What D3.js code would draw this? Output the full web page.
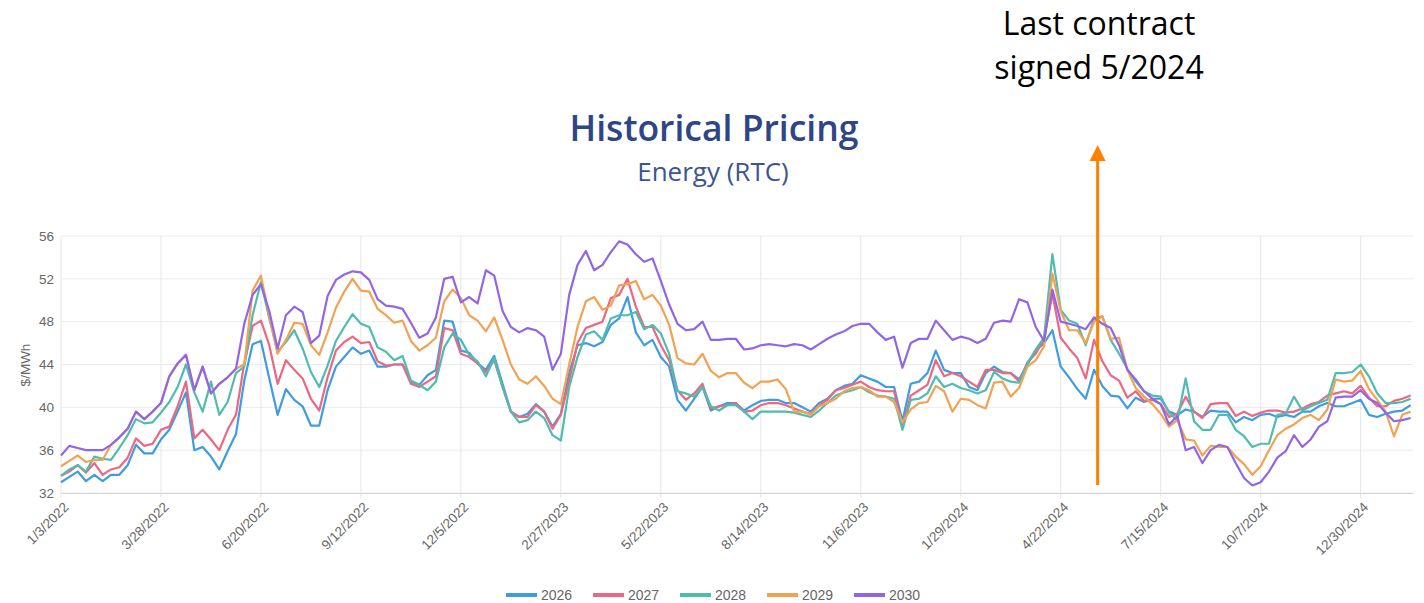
<!DOCTYPE html>
<html>
<head>
<meta charset="utf-8">
<script src="https://cdn.jsdelivr.net/npm/d3@7"></script>
<style>
  html, body { margin: 0; padding: 0; background: #fff; }
  svg { display: block; }
</style>
</head>
<body>
<div id="chart"></div>
<script>
// weekly settlements, first week 1/3/2022
var startDate = '1/3/2022',
	weekCount = 163;

var seriesNames = ['2026', '2027', '2028', '2029', '2030'];
var seriesColors = ['#3f9ce0', '#ec6781', '#4fbcaf', '#f2a253', '#9166e6'];

var tickLabels = ['1/3/2022', '3/28/2022', '6/20/2022', '9/12/2022', '12/5/2022', '2/27/2023',
	'5/22/2023', '8/14/2023', '11/6/2023', '1/29/2024', '4/22/2024', '7/15/2024', '10/7/2024', '12/30/2024'];
var yTicks = [32, 36, 40, 44, 48, 52, 56];

var contractDate = '5/23/2024';

var v2026 = [
	33.0, 33.5, 34.0, 33.1, 33.7, 33.1, 33.7, 33.7, 34.6, 36.5, 35.7, 35.7, 37.0, 37.9, 39.6, 41.4, 36.0, 36.3, 35.4, 34.2,
	35.9, 37.5, 42.5, 45.9, 46.2, 42.7, 39.3, 41.7, 40.7, 40.1, 38.3, 38.3, 41.6, 43.8, 44.7, 45.6, 45.0, 45.3,
	43.8, 43.8, 44.0, 44.0, 42.4, 42.1, 43.0, 43.5, 48.1, 48.0, 45.3, 45.1, 44.1, 43.5, 44.8, 42.2, 39.6, 39.1, 39.4, 40.3,
	39.6, 38.2, 39.4, 43.2, 45.8, 46.0, 45.7, 46.1, 47.7, 48.3, 50.3, 47.0, 45.8, 46.3, 44.7, 43.8, 40.7, 39.7,
	40.8, 41.9, 39.7, 40.1, 40.4, 40.4, 39.7, 40.2, 40.6, 40.7, 40.7, 40.4, 40.4, 40.0, 39.6, 40.4, 40.8, 41.6, 42.0, 42.2,
	43.0, 42.7, 42.4, 41.9, 41.9, 38.7, 42.2, 42.4, 43.2, 45.3, 43.5, 43.2, 43.2, 41.9, 41.6, 43.2, 43.8, 43.3, 43.2,
	42.6, 44.0, 45.3, 46.0, 47.2, 43.8, 42.8, 41.7, 40.8, 43.5, 42.0, 41.1, 41.0, 39.9, 40.9, 40.5, 40.8, 40.8, 39.6, 39.3,
	39.8, 39.6, 39.1, 39.7, 39.6, 39.6, 38.6, 39.1, 38.8, 39.3, 39.4, 39.1, 39.3, 39.1, 39.6, 39.6, 40.1, 40.4, 40.1, 40.1,
	40.4, 40.7, 39.3, 39.1, 39.4, 39.6, 39.7, 40.2
];

var v2027 = [
	33.6, 34.0, 34.6, 33.9, 34.8, 33.7, 34.2, 34.4, 35.3, 37.1, 36.4, 36.6, 37.9, 38.2, 40.1, 42.4, 37.1, 37.9, 37.0, 36.0,
	37.9, 39.3, 44.1, 47.6, 48.1, 45.8, 42.2, 44.4, 43.5, 42.7, 40.8, 39.7, 42.8, 45.3, 46.1, 46.6, 46.0, 46.1,
	44.3, 43.9, 44.0, 44.0, 42.2, 41.9, 42.4, 42.9, 47.4, 47.2, 45.0, 44.7, 44.1, 43.3, 44.4, 41.9, 39.6, 39.1, 39.1, 40.2,
	39.6, 38.0, 39.3, 42.5, 46.0, 47.4, 47.7, 48.0, 50.2, 50.5, 52.0, 49.4, 47.5, 47.5, 45.8, 44.4, 41.6, 40.7,
	41.3, 42.2, 39.9, 40.1, 40.2, 40.4, 39.6, 39.7, 40.2, 40.4, 40.4, 40.2, 39.9, 39.6, 39.4, 40.2, 40.7, 41.6, 41.8, 42.1,
	42.4, 41.9, 41.6, 41.5, 41.5, 38.2, 41.1, 41.6, 42.1, 44.4, 42.9, 43.2, 42.9, 42.4, 41.9, 43.5, 43.5, 43.2, 43.2,
	42.4, 44.2, 45.0, 46.4, 50.6, 46.5, 45.5, 44.6, 42.7, 46.3, 44.3, 43.0, 42.5, 40.9, 41.5, 40.6, 40.7, 40.3, 39.1, 39.4,
	41.0, 39.6, 39.0, 40.3, 40.4, 40.4, 39.2, 39.6, 39.2, 39.5, 39.7, 39.7, 39.5, 39.6, 39.9, 40.3, 40.5, 41.1, 41.3, 41.5,
	41.3, 42.0, 40.9, 40.1, 40.1, 40.6, 40.8, 41.1
];

var v2028 = [
	33.6, 34.2, 34.6, 34.0, 35.4, 35.2, 35.1, 36.2, 37.4, 38.9, 38.5, 38.6, 39.5, 40.5, 41.9, 44.0, 41.4, 39.6, 42.4, 39.3,
	40.5, 43.2, 43.8, 48.6, 51.7, 48.3, 45.2, 46.1, 47.2, 45.5, 43.3, 41.9, 43.9, 46.2, 47.5, 48.7, 47.8, 47.5,
	45.6, 45.2, 44.4, 44.8, 42.5, 42.1, 41.6, 42.4, 45.6, 46.9, 46.3, 44.9, 44.3, 42.9, 44.6, 41.9, 39.6, 38.6, 38.8, 39.6,
	39.0, 37.4, 36.9, 41.9, 44.7, 46.8, 47.1, 46.3, 48.3, 48.6, 48.6, 48.9, 47.3, 47.7, 46.9, 45.0, 41.5, 41.3,
	41.0, 41.9, 40.1, 39.7, 40.2, 40.2, 39.6, 38.9, 39.6, 39.6, 39.6, 39.6, 39.5, 39.3, 39.1, 39.7, 40.4, 41.1, 41.4, 41.6,
	41.9, 41.4, 41.1, 41.0, 40.8, 37.9, 40.7, 40.8, 41.3, 42.9, 41.9, 42.2, 41.8, 41.6, 41.3, 41.6, 43.3, 42.7, 42.4,
	42.3, 44.1, 45.4, 46.5, 54.3, 49.1, 48.1, 47.8, 45.8, 48.3, 48.5, 46.3, 45.0, 43.6, 42.4, 41.5, 41.1, 41.0, 39.5, 38.8,
	42.7, 38.7, 37.9, 37.9, 39.3, 39.3, 37.9, 37.3, 36.3, 36.6, 36.6, 39.3, 39.4, 41.0, 39.7, 40.1, 40.4, 40.7, 43.2, 43.2,
	43.3, 44.0, 42.9, 41.3, 40.4, 40.4, 40.5, 40.8
];

// 2029 runs under the 2030 line through spring 2022
var v2029 = [
	34.5, 35.0, 35.5, 34.9, 35.1, 35.1, 36.5, 37.2, 38.0, 39.6, 38.9, 39.6, 40.4, 42.9, 44.1, 44.9, 41.6, 43.8, 41.3, 42.2,
	42.8, 43.6, 44.0, 50.9, 52.3, 48.5, 45.0, 46.3, 47.9, 47.8, 45.8, 44.9, 47.0, 49.3, 50.8, 52.0, 50.9, 50.8,
	49.2, 48.6, 47.9, 48.1, 46.2, 45.3, 45.8, 46.5, 49.9, 51.0, 50.2, 48.6, 48.1, 47.1, 48.4, 46.3, 44.0, 42.6, 42.2, 42.9,
	42.0, 40.8, 40.3, 44.0, 47.5, 49.9, 50.3, 49.1, 49.5, 51.4, 51.5, 51.8, 50.1, 50.5, 49.5, 47.7, 44.6, 44.1,
	44.0, 45.0, 43.4, 42.8, 43.2, 43.2, 42.3, 41.8, 42.4, 42.4, 42.6, 41.7, 39.6, 39.6, 39.3, 40.1, 40.4, 40.8, 41.5, 41.8,
	41.9, 41.6, 41.0, 41.0, 40.5, 38.6, 39.8, 40.4, 40.5, 42.0, 41.5, 39.6, 40.8, 40.7, 40.2, 39.9, 42.3, 42.4, 41.0,
	41.8, 43.8, 44.4, 45.7, 52.5, 49.0, 47.2, 47.2, 46.0, 48.0, 48.5, 46.4, 46.5, 43.5, 41.8, 41.0, 40.3, 39.4, 38.2, 38.8,
	37.0, 36.9, 35.5, 36.4, 36.3, 36.3, 35.4, 34.7, 33.7, 34.5, 36.0, 37.4, 38.0, 38.4, 39.0, 39.3, 38.8, 39.8, 42.6, 42.4,
	42.5, 43.4, 41.7, 40.7, 39.6, 37.3, 39.3, 39.6
];

var v2030 = [
	35.5, 36.4, 36.2, 36.0, 36.0, 36.0, 36.5, 37.2, 38.0, 39.6, 38.9, 39.6, 40.4, 42.9, 44.1, 44.9, 41.6, 43.8, 41.3, 42.2,
	42.8, 43.6, 47.8, 50.5, 51.5, 49.0, 45.5, 48.6, 49.4, 48.9, 46.0, 46.7, 50.4, 51.9, 52.4, 52.7, 52.6, 51.9,
	50.1, 49.5, 49.4, 49.2, 47.9, 46.5, 46.9, 48.4, 52.0, 52.2, 49.8, 50.3, 49.7, 52.8, 52.3, 49.0, 47.5, 47.0, 47.4, 47.2,
	46.6, 43.5, 45.0, 50.5, 53.3, 54.6, 52.8, 53.3, 54.5, 55.5, 55.2, 54.3, 53.6, 53.9, 51.8, 49.6, 47.8, 47.2,
	47.3, 48.0, 46.3, 46.3, 46.4, 46.4, 45.4, 45.5, 45.8, 45.9, 45.8, 45.7, 45.9, 45.8, 45.4, 45.9, 46.4, 46.8, 47.1, 47.6,
	47.8, 47.8, 47.0, 46.3, 46.6, 43.7, 46.0, 46.4, 46.4, 48.1, 47.2, 46.3, 46.6, 46.4, 46.0, 46.4, 47.9, 48.1, 48.0,
	50.1, 49.8, 47.5, 46.2, 51.0, 48.0, 47.8, 47.6, 47.3, 48.4, 47.8, 47.4, 45.8, 43.5, 42.6, 41.5, 40.8, 40.3, 38.4, 39.2,
	36.0, 36.3, 34.8, 36.0, 36.5, 36.3, 34.8, 33.4, 32.7, 33.0, 34.0, 35.3, 35.9, 37.4, 36.3, 37.0, 38.2, 38.7, 40.9, 41.0,
	41.0, 41.6, 40.8, 40.4, 39.5, 38.7, 38.8, 39.0
];

var seriesValues = [v2026, v2027, v2028, v2029, v2030];

var width = 1424,
	height = 603,
	margin = {top: 236, right: 11, bottom: 110, left: 61};

var parseDate = d3.utcParse('%m/%d/%Y'),
	start = parseDate(startDate),
	weeks = d3.range(weekCount).map(function (i) {
		return d3.utcDay.offset(start, 7 * i);
	});

var x = d3.scaleUtc()
	.domain([start, d3.utcDay.offset(weeks[weeks.length - 1], 2)])
	.range([margin.left, width - margin.right]);

var y = d3.scaleLinear()
	.domain([32, 56])
	.range([height - margin.bottom, margin.top]);

var svg = d3.select('#chart').append('svg')
	.attr('width', width)
	.attr('height', height)
	.style('font-family', '"Liberation Sans", Arial, sans-serif');

// annotation text above the chart
svg.append('text')
	.attr('x', 1099)
	.attr('text-anchor', 'middle')
	.style('font-family', '"Open Sans", sans-serif')
	.style('font-size', '32px')
	.attr('fill', '#000')
	.selectAll('tspan')
	.data(['Last contract', 'signed 5/2024'])
	.enter().append('tspan')
	.attr('x', 1099)
	.attr('y', function (d, i) { return 35 + i * 44; })
	.text(function (d) { return d; });

// title
svg.append('text')
	.attr('x', 714)
	.attr('y', 141)
	.attr('text-anchor', 'middle')
	.style('font-family', '"Open Sans", sans-serif')
	.style('font-weight', 600)
	.style('font-size', '35.5px')
	.attr('fill', '#2e4587')
	.text('Historical Pricing');

svg.append('text')
	.attr('x', 713)
	.attr('y', 181)
	.attr('text-anchor', 'middle')
	.style('font-family', '"Open Sans", sans-serif')
	.style('font-size', '26px')
	.attr('fill', '#3b5592')
	.text('Energy (RTC)');

var tickDates = tickLabels.map(parseDate);

// grid
var grid = svg.append('g');
grid.selectAll('line.h')
	.data(yTicks)
	.enter().append('line')
	.attr('class', 'h')
	.attr('x1', margin.left)
	.attr('x2', width - margin.right)
	.attr('y1', function (d) { return y(d); })
	.attr('y2', function (d) { return y(d); })
	.attr('stroke', '#ececec');

grid.selectAll('line.v')
	.data(tickDates)
	.enter().append('line')
	.attr('class', 'v')
	.attr('x1', function (d) { return x(d); })
	.attr('x2', function (d) { return x(d); })
	.attr('y1', margin.top)
	.attr('y2', height - margin.bottom + 5)
	.attr('stroke', '#e6e6e6');

// x axis
var xAxis = svg.append('g')
	.attr('transform', 'translate(0,' + (height - margin.bottom) + ')')
	.call(d3.axisBottom(x)
		.tickValues(tickDates)
		.tickSize(0)
		.tickFormat(function (d, i) { return tickLabels[i]; }));

xAxis.select('.domain').attr('stroke', '#d4d4d4');
xAxis.selectAll('text')
	.attr('fill', '#666')
	.style('font-size', '13.5px')
	.attr('text-anchor', 'end')
	.attr('dy', null)
	.attr('y', 0)
	.attr('transform', 'translate(8,15) rotate(-45)');

// y axis
var yAxis = svg.append('g')
	.attr('transform', 'translate(' + margin.left + ',0)')
	.call(d3.axisLeft(y).tickValues(yTicks).tickSize(0).tickPadding(7));

yAxis.select('.domain').remove();
yAxis.selectAll('text')
	.attr('fill', '#666')
	.style('font-size', '13.5px');

svg.append('text')
	.attr('transform', 'translate(30,365) rotate(-90)')
	.attr('text-anchor', 'middle')
	.attr('fill', '#666')
	.style('font-size', '13.5px')
	.text('$/MWh');

// series lines
var line = d3.line()
	.x(function (d, i) { return x(weeks[i]); })
	.y(function (d) { return y(d); });

svg.append('g')
	.selectAll('path')
	.data(seriesValues)
	.enter().append('path')
	.attr('d', line)
	.attr('fill', 'none')
	.attr('stroke', function (d, i) { return seriesColors[i]; })
	.attr('stroke-width', 2.2)
	.attr('stroke-linejoin', 'round');

// contract marker
var cx = x(parseDate(contractDate));
svg.append('line')
	.attr('x1', cx)
	.attr('x2', cx)
	.attr('y1', 485)
	.attr('y2', 158)
	.attr('stroke', '#ff8000')
	.attr('stroke-width', 3);

svg.append('path')
	.attr('d', 'M' + (cx - 8) + ',161L' + cx + ',145L' + (cx + 8) + ',161Z')
	.attr('fill', '#ff8000');

// legend
var legend = svg.append('g')
	.selectAll('g')
	.data(seriesNames)
	.enter().append('g')
	.attr('transform', function (d, i) { return 'translate(' + (506 + i * 87) + ',595)'; });

legend.append('line')
	.attr('x1', 0)
	.attr('x2', 31)
	.attr('stroke', function (d, i) { return seriesColors[i]; })
	.attr('stroke-width', 4);

legend.append('text')
	.attr('x', 35)
	.attr('y', 5)
	.attr('fill', '#666')
	.style('font-size', '14px')
	.text(function (d) { return d; });
</script>
</body>
</html>
